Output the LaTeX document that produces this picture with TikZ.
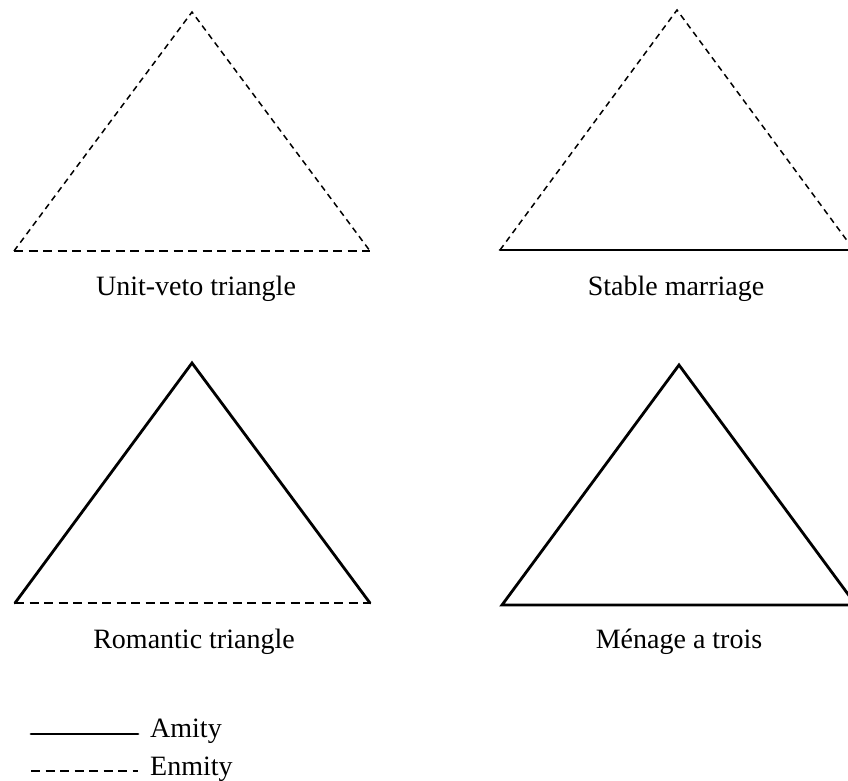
\documentclass[tikz,border=0pt]{standalone}
\usepackage{fontspec}
\setmainfont{Liberation Serif}
\usetikzlibrary{positioning}

\tikzset{
  amity/.style={line width=2.8pt,line cap=round,line join=miter},
  enmity/.style={line width=1.5pt,dash pattern=on 6pt off 4.5pt},
  enmitybase/.style={line width=2.2pt,dash pattern=on 9pt off 5.5pt},
  caption/.style={anchor=base,inner sep=0pt,font=\fontsize{28}{33}\selectfont},
  legend/.style={anchor=base west,inner sep=0pt,font=\fontsize{28}{33}\selectfont}
}

\begin{document}
\begin{tikzpicture}[x=1pt,y=-1pt]
\useasboundingbox (0,0) rectangle (848,780);
\clip (0,0) rectangle (848,780);
% corners of the four triangles
\coordinate (ua) at (192,12);  \coordinate (ul) at (14,251);  \coordinate (ur) at (370,251);
\coordinate (sa) at (677,10);  \coordinate (sl) at (500,250); \coordinate (sr) at (854,250);
\coordinate (ra) at (192,363); \coordinate (rl) at (15,603);  \coordinate (rr) at (370,603);
\coordinate (ma) at (679,365); \coordinate (ml) at (502,605); \coordinate (mr) at (856,605);
% unit-veto triangle
\draw[enmity] (ul) -- (ua) -- (ur);
\draw[enmitybase] (ul) -- (ur);
\node[caption] (uveto) at (196,295) {Unit-veto triangle};
% stable marriage
\draw[enmity] (sl) -- (sa) -- (sr);
\draw[amity] (sl) -- (sr);
\node[caption] (stable) at (676,295) {Stable marriage};
% romantic triangle
\draw[amity] (rl) -- (ra) -- (rr);
\draw[enmitybase] (rl) -- (rr);
\node[caption] (romantic) at (194,648) {Romantic triangle};
% menage a trois
\draw[amity] (ml) -- (ma) -- (mr) -- cycle;
\node[caption] (menage) at (679,648) {Ménage a trois};
% legend
\coordinate (am1) at (31,734); \coordinate (am2) at (138,734);
\coordinate (en1) at (31,771); \coordinate (en2) at (138,771);
\draw[amity] (am1) -- (am2);
\draw[enmitybase] (en1) -- (en2);
\node[legend] (amitytxt) at (150,737) {Amity};
\node[legend] (enmitytxt) at (150,775) {Enmity};
\end{tikzpicture}
\end{document}
